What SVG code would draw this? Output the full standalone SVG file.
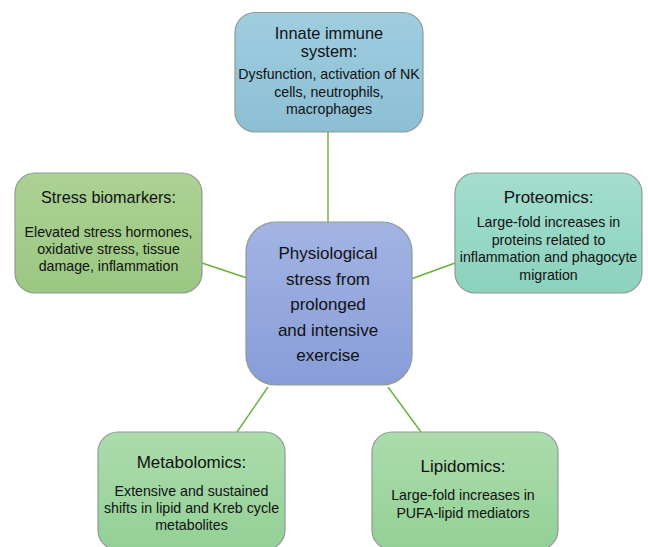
<svg xmlns="http://www.w3.org/2000/svg" width="648" height="547" viewBox="0 0 648 547">
<style>
.box{stroke:#8e9a93;stroke-width:1.2}
.t{font-family:"Liberation Sans",Arial,sans-serif;fill:#111;text-anchor:middle}
.h{font-size:17px}
.d{font-size:14.2px}
.c{font-size:17px}
.conn line{stroke:#6aaf3d;stroke-width:1.4}
</style>
<defs>
<linearGradient id="gBlue" x1="0" y1="0" x2="0" y2="1"><stop offset="0" stop-color="#9fcde0"/><stop offset="1" stop-color="#8cbfd4"/></linearGradient>
<linearGradient id="gLeft" x1="0" y1="0" x2="0" y2="1"><stop offset="0" stop-color="#acd293"/><stop offset="1" stop-color="#9bc781"/></linearGradient>
<linearGradient id="gTeal" x1="0" y1="0" x2="0" y2="1"><stop offset="0" stop-color="#a3ddce"/><stop offset="1" stop-color="#8cd2bd"/></linearGradient>
<linearGradient id="gCenter" x1="0" y1="0" x2="0" y2="1"><stop offset="0" stop-color="#a3b4e4"/><stop offset="1" stop-color="#889dd8"/></linearGradient>
<linearGradient id="gGreen" x1="0" y1="0" x2="0" y2="1"><stop offset="0" stop-color="#acdcac"/><stop offset="1" stop-color="#93d096"/></linearGradient>
</defs>
<rect width="648" height="547" fill="#ffffff"/>
<g class="conn" id="connectors">
<line x1="328" y1="132" x2="328" y2="222"/>
<line x1="202" y1="263" x2="247" y2="278"/>
<line x1="411" y1="279" x2="455" y2="263"/>
<line x1="268" y1="387" x2="237" y2="432"/>
<line x1="388" y1="387" x2="421" y2="432"/>
</g>
<g id="center">
<rect class="box" x="246" y="222" width="166" height="163" rx="30" fill="url(#gCenter)"/>
<text class="t c"><tspan x="328" y="259">Physiological</tspan><tspan x="328" y="284.5">stress from</tspan><tspan x="328" y="310">prolonged</tspan><tspan x="328" y="335.5">and intensive</tspan><tspan x="328" y="361">exercise</tspan></text>
</g>
<g id="innate">
<rect class="box" x="235" y="12.5" width="188" height="119.5" rx="20" fill="url(#gBlue)"/>
<text class="t" style="font-size:16.4px"><tspan x="329" y="38.5">Innate immune</tspan><tspan x="329" y="57">system:</tspan></text>
<text class="t d"><tspan x="329" y="79">Dysfunction, activation of NK</tspan><tspan x="329" y="96.5">cells, neutrophils,</tspan><tspan x="329" y="114">macrophages</tspan></text>
</g>
<g id="stress">
<rect class="box" x="15" y="173" width="187" height="120" rx="20" fill="url(#gLeft)"/>
<text class="t" style="font-size:16.2px" x="108.5" y="203">Stress biomarkers:</text>
<text class="t d"><tspan x="108.5" y="237">Elevated stress hormones,</tspan><tspan x="108.5" y="254">oxidative stress, tissue</tspan><tspan x="108.5" y="271">damage, inflammation</tspan></text>
</g>
<g id="proteomics">
<rect class="box" x="455" y="173" width="187" height="120" rx="20" fill="url(#gTeal)"/>
<text class="t h" x="548.5" y="203">Proteomics:</text>
<text class="t d"><tspan x="548.5" y="227">Large-fold increases in</tspan><tspan x="548.5" y="244.5">proteins related to</tspan><tspan x="548.5" y="262">inflammation and phagocyte</tspan><tspan x="548.5" y="279.5">migration</tspan></text>
</g>
<g id="metabolomics">
<rect class="box" x="98" y="432" width="187" height="118" rx="20" fill="url(#gGreen)"/>
<text class="t h" x="191.5" y="468">Metabolomics:</text>
<text class="t d"><tspan x="191.5" y="496">Extensive and sustained</tspan><tspan x="191.5" y="513">shifts in lipid and Kreb cycle</tspan><tspan x="191.5" y="530">metabolites</tspan></text>
</g>
<g id="lipidomics">
<rect class="box" x="372" y="432" width="186" height="118" rx="20" fill="url(#gGreen)"/>
<text class="t h" x="463" y="472">Lipidomics:</text>
<text class="t d"><tspan x="463" y="500">Large-fold increases in</tspan><tspan x="463" y="518">PUFA-lipid mediators</tspan></text>
</g>
</svg>
